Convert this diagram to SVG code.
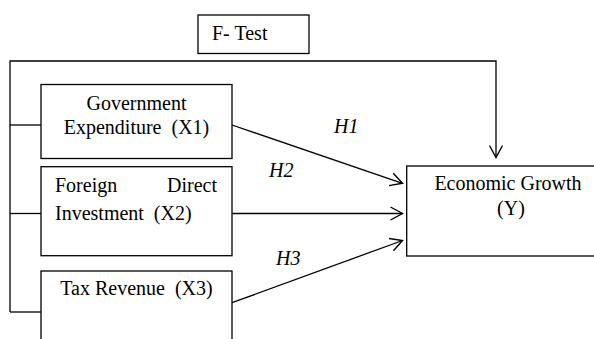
<svg xmlns="http://www.w3.org/2000/svg" width="594" height="339" viewBox="0 0 594 339">
<defs>
<style>
.box{fill:#fff;stroke:#000;stroke-width:1.3}
.t{font-family:"Liberation Serif","Times New Roman",serif;font-size:20px;fill:#000}
.c{text-anchor:middle}
.h{font-style:italic}
.ln{fill:none;stroke:#000;stroke-width:1.3}
</style>
<marker id="arr" viewBox="-14 -8 16 16" refX="0" refY="0" markerWidth="16" markerHeight="16" markerUnits="userSpaceOnUse" orient="auto" overflow="visible">
<path d="M-12,-6.5 L0,0 L-12,6.5" fill="none" stroke="#000" stroke-width="1.4"/>
</marker>
</defs>
<rect width="594" height="339" fill="#fff"/>
<g id="connectors">
<path class="ln" d="M10,312 L10,61 L496,61 L496,157.5" marker-end="url(#arr)"/>
<line class="ln" x1="10" y1="125" x2="41" y2="125"/>
<line class="ln" x1="10" y1="213.5" x2="41" y2="213.5"/>
<line class="ln" x1="10" y1="312" x2="41" y2="312"/>
<line class="ln" x1="232" y1="125" x2="402.5" y2="183.3" marker-end="url(#arr)"/>
<line class="ln" x1="232" y1="213.5" x2="402.5" y2="213.5" marker-end="url(#arr)"/>
<line class="ln" x1="232" y1="302.7" x2="402.5" y2="240.5" marker-end="url(#arr)"/>
<text class="t h" x="334" y="133">H1</text>
<text class="t h" x="269" y="177">H2</text>
<text class="t h" x="276" y="265">H3</text>
</g>
<g id="ftest">
<rect class="box" x="198" y="15" width="111" height="38.5"/>
<text class="t" x="212" y="39.5">F- Test</text>
</g>
<g id="x1">
<rect class="box" x="41" y="84.5" width="191" height="74"/>
<text class="t c" x="136.5" y="110">Government</text>
<text class="t c" x="136.5" y="134" xml:space="preserve">Expenditure  (X1)</text>
</g>
<g id="x2">
<rect class="box" x="41" y="166.7" width="191" height="89"/>
<text class="t" x="55" y="191.7">Foreign</text>
<text class="t" x="217" y="191.7" text-anchor="end">Direct</text>
<text class="t" x="55" y="220" xml:space="preserve">Investment  (X2)</text>
</g>
<g id="x3">
<rect class="box" x="41" y="271" width="191" height="80"/>
<text class="t c" x="136.5" y="295" xml:space="preserve">Tax Revenue  (X3)</text>
</g>
<g id="y">
<rect class="box" x="406.7" y="166" width="205" height="90"/>
<text class="t c" x="508" y="190">Economic Growth</text>
<text class="t c" x="511" y="215">(Y)</text>
</g>
</svg>
